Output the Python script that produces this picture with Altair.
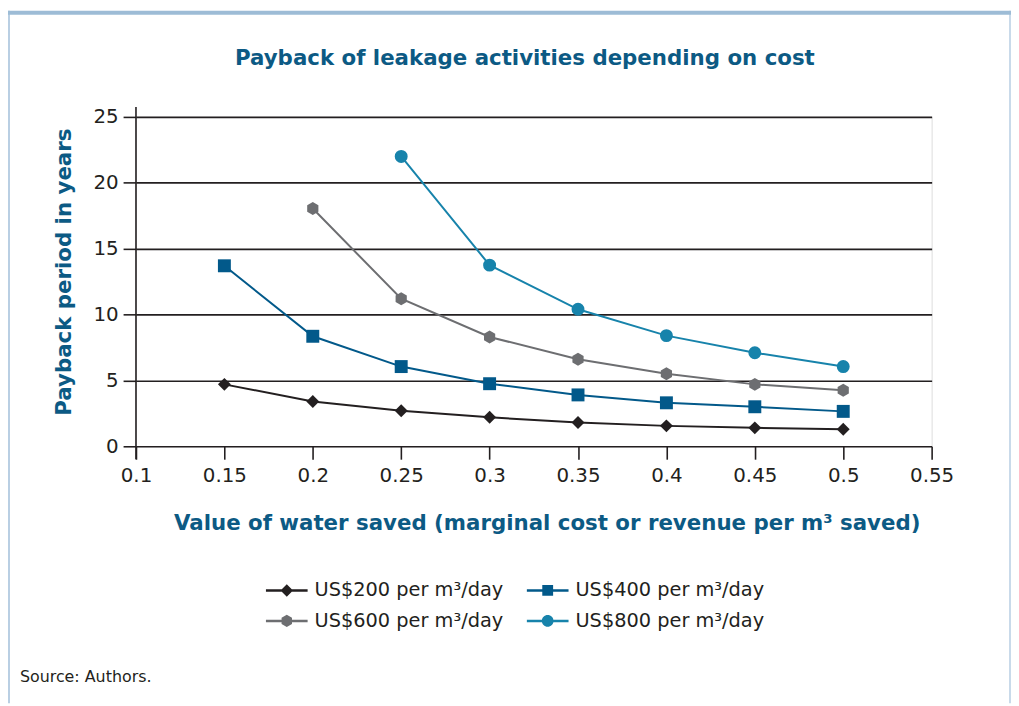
import altair as alt
import pandas as pd

# ---- data ----
x_values = [0.15, 0.2, 0.25, 0.3, 0.35, 0.4, 0.45, 0.5]
series_names = ["US$200 per m³/day", "US$400 per m³/day",
                "US$600 per m³/day", "US$800 per m³/day"]
s200 = [4.7, 3.4, 2.7, 2.2, 1.8, 1.55, 1.4, 1.3]
s400 = [13.7, 8.35, 6.05, 4.75, 3.9, 3.3, 3.0, 2.65]
s600 = [None, 18.05, 11.2, 8.3, 6.6, 5.5, 4.7, 4.25]
s800 = [None, None, 22.0, 13.75, 10.4, 8.4, 7.1, 6.05]
x_ticks = [0.1, 0.15, 0.2, 0.25, 0.3, 0.35, 0.4, 0.45, 0.5, 0.55]
y_ticks = [0, 5, 10, 15, 20, 25]

colors = ["#231f20", "#02598a", "#6d6e71", "#1783ab"]
marker_shapes = [
    "diamond",
    "square",
    "M0,-1L0.866,-0.5L0.866,0.5L0,1L-0.866,0.5L-0.866,-0.5Z",
    "circle",
]
legend_shapes = [
    "M-1,-0.06H1V0.06H-1Z M0,-0.3L0.3,0L0,0.3L-0.3,0Z",
    "M-1,-0.06H1V0.06H-1Z M-0.26,-0.26H0.26V0.26H-0.26Z",
    "M-1,-0.06H1V0.06H-1Z M0,-0.29L0.25,-0.145L0.25,0.145L0,0.29L-0.25,0.145L-0.25,-0.145Z",
    "M-1,-0.06H1V0.06H-1Z M-0.28,0A0.28,0.28 0 1,1 0.28,0A0.28,0.28 0 1,1 -0.28,0Z",
]

rows = []
for name, vals in zip(series_names, [s200, s400, s600, s800]):
    for xv, yv in zip(x_values, vals):
        if yv is not None:
            rows.append({"x": xv, "y": yv, "series": name})
df = pd.DataFrame(rows)

FONT = "DejaVu Sans"
TXT = "#231f20"
BLUE_T = "#0c5a84"

W, H = 802, 332

x_enc = alt.X("x:Q", scale=alt.Scale(domain=[0.1, 0.55], nice=False, zero=False),
              axis=alt.Axis(values=x_ticks, format=".2~f", grid=False, domain=False,
                            tickSize=13, tickWidth=1.6, tickColor=TXT,
                            labelFontSize=20, labelFont=FONT, labelColor=TXT, labelPadding=7,
                            labelFlush=False, labelOverlap=False,
                            title="Value of water saved (marginal cost or revenue per m³ saved)",
                            titleFont=FONT, titleFontSize=21.5, titleFontWeight="bold",
                            titleColor=BLUE_T, titlePadding=27, titleX=W / 2 + 13))
y_enc = alt.Y("y:Q", scale=alt.Scale(domain=[0, 25], nice=False),
              axis=alt.Axis(values=y_ticks, grid=True, gridColor=TXT, gridWidth=1.6, gridOpacity=1,
                            domain=False, tickSize=13, tickWidth=1.6, tickColor=TXT,
                            labelFontSize=20, labelFont=FONT, labelColor=TXT, labelPadding=5,
                            title="Payback period in years", titleFont=FONT, titleFontSize=21.5,
                            titleFontWeight="bold", titleColor=BLUE_T, titlePadding=18,
                            titleY=H / 2 - 10))

color_scale = alt.Scale(domain=series_names, range=colors)

base = alt.Chart(df)

lines = base.mark_line(strokeWidth=2).encode(
    x=x_enc, y=y_enc,
    color=alt.Color("series:N", scale=color_scale, legend=None),
    detail="series:N",
)

points = base.mark_point(filled=True, opacity=1, size=170).encode(
    x="x:Q", y="y:Q",
    color=alt.Color("series:N", scale=color_scale, legend=None),
    shape=alt.Shape("series:N", scale=alt.Scale(domain=series_names, range=marker_shapes), legend=None),
)

leg_props = dict(orient="none", legendX=131, legendY=456, columns=2, direction="horizontal",
                 title=None, labelFont=FONT, labelFontSize=19.5, labelColor=TXT, labelLimit=400,
                 symbolSize=1764, symbolStrokeWidth=0, symbolOpacity=1,
                 labelOffset=7, columnPadding=23, rowPadding=-10, padding=0)

legend_layer = base.transform_filter("false").mark_point(filled=True, opacity=1).encode(
    x="x:Q", y="y:Q",
    color=alt.Color("series:N", scale=color_scale, legend=alt.Legend(**leg_props)),
    shape=alt.Shape("series:N", scale=alt.Scale(domain=series_names, range=legend_shapes),
                    legend=alt.Legend(**leg_props)),
)

deco = alt.Chart(pd.DataFrame({"k": [0]}))
y_axis_line = deco.mark_rule(color=TXT, strokeWidth=1.6).encode(
    x=alt.value(0), y=alt.value(-10), y2=alt.value(H + 13))
frame_left = deco.mark_rule(color="#b9cfe3", strokeWidth=2).encode(
    x=alt.value(-128), y=alt.value(-107), y2=alt.value(591))
frame_right = deco.mark_rule(color="#c9daea", strokeWidth=2).encode(
    x=alt.value(881), y=alt.value(-107), y2=alt.value(591))
frame_top = deco.mark_rule(color="#9dbcd6", strokeWidth=4).encode(
    x=alt.value(-129), x2=alt.value(882), y=alt.value(-105))
source = deco.mark_text(text="Source: Authors.", align="left", baseline="middle",
                        font=FONT, fontSize=16, color=TXT).encode(
    x=alt.value(-117), y=alt.value(565))

chart = alt.layer(
    frame_left, frame_right, frame_top,
    lines, points, legend_layer, y_axis_line, source,
).resolve_scale(shape="independent", color="independent").properties(
    width=W, height=H,
    title=alt.Title("Payback of leakage activities depending on cost", font=FONT,
                    fontSize=21.5, fontWeight="bold", color=BLUE_T, anchor="middle",
                    frame="group", offset=-60, dx=-9),
    autosize=alt.AutoSizeParams(type="none"),
    padding={"left": 129, "top": 107, "right": 80, "bottom": 259},
).configure_view(stroke=None).configure(background="white")

chart.save("out.html", embed_options={"renderer": "svg", "actions": False})
